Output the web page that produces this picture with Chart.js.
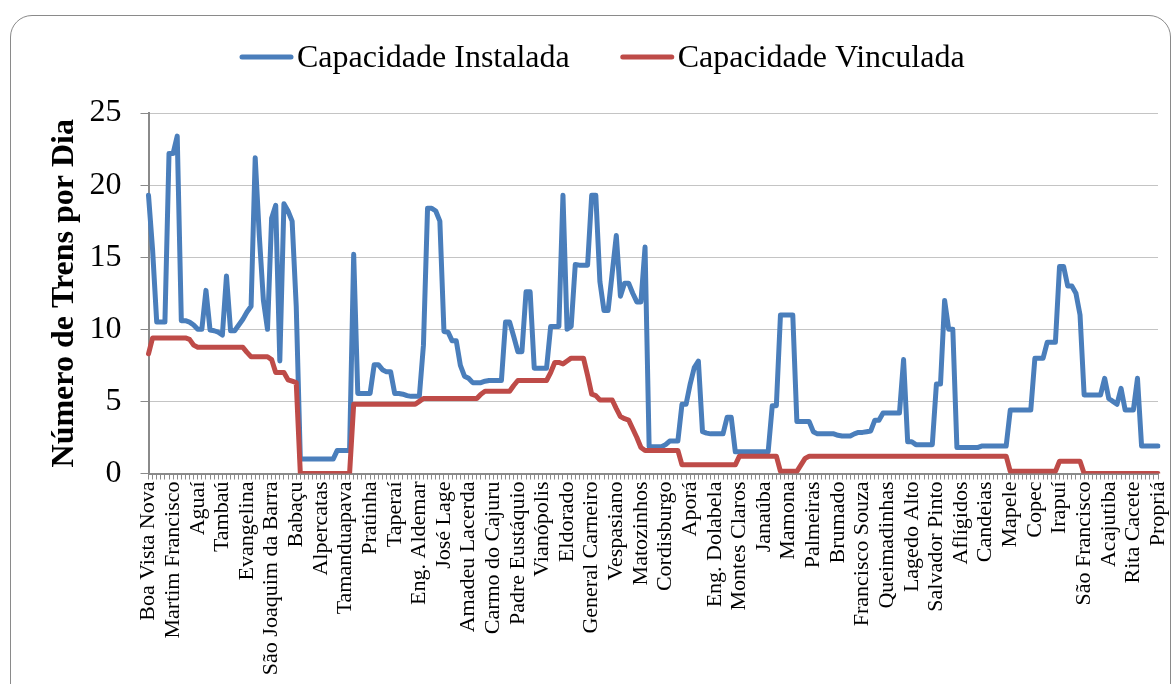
<!DOCTYPE html>
<html><head><meta charset="utf-8">
<script src="https://cdn.jsdelivr.net/npm/chart.js@4.4.1/dist/chart.umd.min.js"></script>
<style>
html,body{margin:0;padding:0;background:#fff;overflow:hidden;width:1174px;height:684px;}
#frame{position:absolute;left:10px;top:15px;width:1161px;height:740px;border:1.5px solid #8a8a8a;border-radius:22px;box-sizing:border-box;}
#wrap{position:absolute;left:0;top:0;width:1174px;height:684px;}
</style></head><body>
<div id="frame"></div>
<div id="wrap"><canvas id="c" width="1174" height="684"></canvas></div>
<script>
const stationLabels = ["Boa Vista Nova","Martim Francisco","Aguaí","Tambaú","Evangelina","São Joaquim da Barra","Babaçu","Alpercatas","Tamanduapava","Pratinha","Taperaí","Eng. Aldemar","José Lage","Amadeu Lacerda","Carmo do Cajuru","Padre Eustáquio","Vianópolis","Eldorado","General Carneiro","Vespasiano","Matozinhos","Cordisburgo","Aporá","Eng. Dolabela","Montes Claros","Janaúba","Mamona","Palmeiras","Brumado","Francisco Souza","Queimadinhas","Lagedo Alto","Salvador Pinto","Aflígidos","Candeias","Mapele","Copec","Irapuí","São Francisco","Acajutiba","Rita Cacete","Propriá"];
const labelStep = 6;
const seriesNames = ["Capacidade Instalada","Capacidade Vinculada"];
const capacidadeInstalada = [
19.3,15.5,10.5,10.5,10.5,22.2,22.2,23.4,10.6,10.6,
10.5,10.3,10.0,10.0,12.7,9.95,9.9,9.8,9.6,13.7,
9.9,9.9,10.3,10.7,11.2,11.6,21.9,16.5,12.0,10.0,
17.7,18.6,7.8,18.7,18.2,17.5,11.6,1.0,1.0,1.0,
1.0,1.0,1.0,1.0,1.0,1.0,1.6,1.6,1.6,1.6,
15.2,5.55,5.55,5.55,5.55,7.55,7.55,7.2,7.05,7.05,
5.55,5.55,5.5,5.4,5.35,5.35,5.35,8.9,18.4,18.4,
18.2,17.5,9.85,9.8,9.2,9.2,7.5,6.75,6.6,6.3,
6.3,6.3,6.4,6.45,6.45,6.45,6.45,10.5,10.5,9.5,
8.45,8.45,12.6,12.6,7.3,7.3,7.3,7.3,10.2,10.2,
10.2,19.3,10.0,10.2,14.5,14.45,14.45,14.45,19.3,19.3,
13.3,11.3,11.3,13.9,16.5,12.3,13.2,13.2,12.5,11.9,
11.9,15.7,1.85,1.85,1.85,1.85,2.0,2.25,2.25,2.25,
4.8,4.8,6.2,7.35,7.8,2.9,2.8,2.75,2.75,2.75,
2.75,3.9,3.9,1.5,1.5,1.5,1.5,1.5,1.5,1.5,
1.5,1.5,4.7,4.7,11.0,11.0,11.0,11.0,3.6,3.6,
3.6,3.6,2.9,2.75,2.75,2.75,2.75,2.75,2.65,2.6,
2.6,2.6,2.75,2.85,2.85,2.9,2.95,3.7,3.7,4.2,
4.2,4.2,4.2,4.2,7.9,2.2,2.2,2.0,2.0,2.0,
2.0,2.0,6.2,6.2,12.0,10.0,10.0,1.8,1.8,1.8,
1.8,1.8,1.8,1.9,1.9,1.9,1.9,1.9,1.9,1.9,
4.4,4.4,4.4,4.4,4.4,4.4,8.0,8.0,8.0,9.1,
9.1,9.1,14.35,14.35,13.0,13.0,12.5,11.0,5.45,5.45,
5.45,5.45,5.45,6.6,5.2,5.0,4.8,5.9,4.4,4.4,
4.4,6.6,1.9,1.9,1.9,1.9,1.9];
const capacidadeVinculada = [
8.3,9.4,9.4,9.4,9.4,9.4,9.4,9.4,9.4,9.4,
9.3,8.9,8.75,8.75,8.75,8.75,8.75,8.75,8.75,8.75,
8.75,8.75,8.75,8.75,8.4,8.1,8.1,8.1,8.1,8.1,
7.9,7.0,7.0,7.0,6.5,6.4,6.3,0,0,0,
0,0,0,0,0,0,0,0,0,0,
4.8,4.8,4.8,4.8,4.8,4.8,4.8,4.8,4.8,4.8,
4.8,4.8,4.8,4.8,4.8,4.8,5.0,5.2,5.2,5.2,
5.2,5.2,5.2,5.2,5.2,5.2,5.2,5.2,5.2,5.2,
5.2,5.5,5.7,5.7,5.7,5.7,5.7,5.7,5.7,6.1,
6.45,6.45,6.45,6.45,6.45,6.45,6.45,6.45,7.0,7.7,
7.7,7.6,7.8,8.0,8.0,8.0,8.0,6.8,5.5,5.4,
5.1,5.1,5.1,5.1,4.5,3.95,3.8,3.7,3.1,2.5,
1.8,1.6,1.6,1.6,1.6,1.6,1.6,1.6,1.6,1.6,
0.6,0.6,0.6,0.6,0.6,0.6,0.6,0.6,0.6,0.6,
0.6,0.6,0.6,0.6,1.2,1.2,1.2,1.2,1.2,1.2,
1.2,1.2,1.2,1.2,0.15,0.15,0.15,0.15,0.15,0.6,
1.05,1.2,1.2,1.2,1.2,1.2,1.2,1.2,1.2,1.2,
1.2,1.2,1.2,1.2,1.2,1.2,1.2,1.2,1.2,1.2,
1.2,1.2,1.2,1.2,1.2,1.2,1.2,1.2,1.2,1.2,
1.2,1.2,1.2,1.2,1.2,1.2,1.2,1.2,1.2,1.2,
1.2,1.2,1.2,1.2,1.2,1.2,1.2,1.2,1.2,1.2,
0.15,0.15,0.15,0.15,0.15,0.15,0.15,0.15,0.15,0.15,
0.15,0.15,0.85,0.85,0.85,0.85,0.85,0.85,0,0,
0,0,0,0,0,0,0,0,0,0,
0,0,0,0,0,0,0];
const yTicks = [0,5,10,15,20,25];

const categories = capacidadeInstalada.map((_, i) => (i % labelStep === 0 ? stationLabels[i / labelStep] : ''));

const legendPlugin = {
  id: 'customLegend',
  afterDraw(chart) {
    const ctx = chart.ctx;
    ctx.save();
    ctx.font = '32px "Liberation Serif"';
    ctx.textBaseline = 'alphabetic';
    ctx.fillStyle = '#000';
    let x = 240; const y = 57;
    chart.data.datasets.forEach((ds) => {
      ctx.strokeStyle = ds.borderColor; ctx.lineWidth = 5; ctx.lineCap = 'round';
      ctx.beginPath(); ctx.moveTo(x + 2, y); ctx.lineTo(x + 51, y); ctx.stroke();
      x += 57;
      ctx.fillText(ds.label, x, 67);
      x += ctx.measureText(ds.label).width + 51;
    });
    ctx.restore();
  }
};

new Chart(document.getElementById('c'), {
  type: 'line',
  data: {
    labels: categories,
    datasets: [
      { label: seriesNames[0], data: capacidadeInstalada, borderColor: '#4a7ebb', backgroundColor: '#4a7ebb', borderWidth: 5, pointRadius: 0, tension: 0, borderJoinStyle: 'round', borderCapStyle: 'round', order: 1 },
      { label: seriesNames[1], data: capacidadeVinculada, borderColor: '#be4b48', backgroundColor: '#be4b48', borderWidth: 5, pointRadius: 0, tension: 0, borderJoinStyle: 'round', borderCapStyle: 'round', order: 0 }
    ]
  },
  options: {
    responsive: false,
    maintainAspectRatio: false,
    animation: false,
    devicePixelRatio: 1,
    layout: { padding: { top: 113, right: 16, bottom: 0, left: 0 } },
    plugins: { legend: { display: false }, tooltip: { enabled: false } },
    scales: {
      x: {
        type: 'category',
        offset: false,
        grid: { display: true, drawOnChartArea: false, drawTicks: true, tickLength: 6, color: '#8a8a8a', lineWidth: 1 },
        border: { display: true, color: '#8a8a8a', width: 2 },
        ticks: { autoSkip: false, maxRotation: 90, minRotation: 90, padding: 2, color: '#000', font: { family: 'Liberation Serif', size: 22 } },
        afterFit: (s) => { s.height = 684 - 473.5; s.paddingLeft = 0; s.paddingRight = 0; }
      },
      y: {
        min: 0, max: 25,
        afterBuildTicks: (s) => { s.ticks = yTicks.map(v => ({ value: v })); },
        grid: { color: '#c4c4c4', lineWidth: 1, tickLength: 8, tickColor: '#8a8a8a', drawTicks: true },
        border: { display: true, color: '#8a8a8a', width: 2 },
        ticks: { padding: 19, color: '#000', font: { family: 'Liberation Serif', size: 32 } },
        title: { display: true, text: 'Número de Trens por Dia', color: '#000', font: { family: 'Liberation Serif', size: 32, weight: 'bold' }, padding: { top: 46, bottom: 0 } },
        afterFit: (s) => { s.width = 148.5; s.paddingTop = 0; s.paddingBottom = 0; }
      }
    }
  },
  plugins: [legendPlugin]
});
</script>
</body></html>
